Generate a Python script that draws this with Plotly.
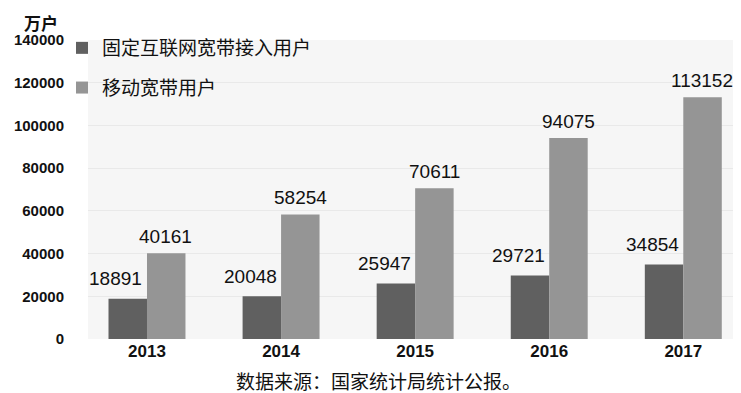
import plotly.graph_objects as go

years = ["2013", "2014", "2015", "2016", "2017"]
fixed = [18891, 20048, 25947, 29721, 34854]
mobile = [40161, 58254, 70611, 94075, 113152]
name_fixed = "固定互联网宽带接入用户"
name_mobile = "移动宽带用户"
y_ticks = [0, 20000, 40000, 60000, 80000, 100000, 120000, 140000]

CJK = "Noto Sans CJK SC"
NUM = "Liberation Sans"

W, H = 741, 393
ML, MR, MT, MB = 80, 0, 32, 62
PW, PH = W - ML - MR, H - MT - MB


def px_x(px):
    return (px - ML) / PW


def px_y(py):
    return (H - MB - py) / PH


fig = go.Figure()
fig.add_trace(go.Bar(x=years, y=fixed, name=name_fixed, marker_color="#606060",
                     marker_line_width=0, legendgroup="a"))
fig.add_trace(go.Bar(x=years, y=mobile, name=name_mobile, marker_color="#959595",
                     marker_line_width=0, legendgroup="b"))

ann = []
for i, v in enumerate(fixed):
    ann.append(dict(x=i, y=v, xref="x", yref="y", text=str(v), showarrow=False,
                    xshift=-31, yshift=20, font=dict(family=NUM, size=19, color="#111")))
for i, v in enumerate(mobile):
    ann.append(dict(x=i, y=v, xref="x", yref="y", text=str(v), showarrow=False,
                    xshift=19, yshift=17, font=dict(family=NUM, size=19, color="#111")))
ann.append(dict(x=px_x(14), y=px_y(0), xref="paper", yref="paper", text="<b>万户</b>",
                showarrow=False, xanchor="left", yanchor="top",
                font=dict(family=CJK, size=17, color="#111")))
ann.append(dict(x=px_x(370), y=px_y(388), xref="paper", yref="paper",
                text="数据来源：国家统计局统计公报。", showarrow=False,
                xanchor="center", yanchor="bottom",
                font=dict(family=CJK, size=19, color="#111")))

fig.update_layout(
    width=W, height=H,
    margin=dict(l=ML, r=MR, t=MT, b=MB, autoexpand=False),
    paper_bgcolor="white", plot_bgcolor="#f6f6f6",
    barmode="group", bargap=0.426, bargroupgap=0,
    annotations=ann,
    legend=dict(x=px_x(54), y=px_y(21), xanchor="left", yanchor="top",
                bgcolor="rgba(0,0,0,0)", traceorder="grouped", tracegroupgap=12,
                font=dict(family=CJK, size=19, color="#111"), itemwidth=30),
    xaxis=dict(type="category", range=[-0.44, 4.49], showgrid=False, showline=False, ticks="",
               tickfont=dict(family=NUM, size=17, color="#111", weight="bold"),
               ticklabelstandoff=0),
    yaxis=dict(range=[0, 140000], tickvals=y_ticks, ticktext=[str(t) for t in y_ticks],
               showgrid=True, gridcolor="#e9e9e9", gridwidth=1, zeroline=False,
               showline=False, ticks="",
               tickfont=dict(family=NUM, size=15, color="#111", weight="bold"),
               ticklabelstandoff=23),
)

fig.write_html("out.html")
